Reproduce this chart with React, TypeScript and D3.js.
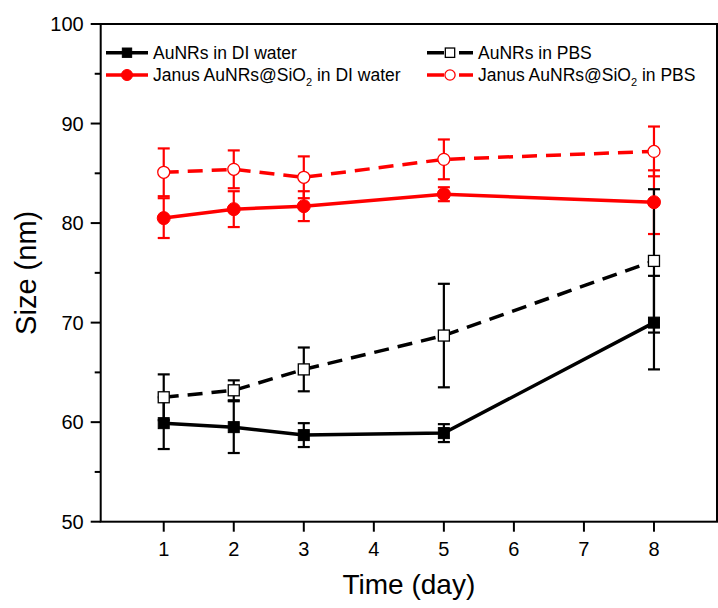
import React, { useEffect, useRef } from 'react';
import * as d3 from 'd3';

const days = [1, 2, 3, 5, 8];
const xTicks = [1, 2, 3, 4, 5, 6, 7, 8];
const yTicks = [50, 60, 70, 80, 90, 100];
const yMinor = [55, 65, 75, 85, 95];

const auDI = [59.9, 59.5, 58.7, 58.9, 70.0];
const auDIErr = [2.6, 2.6, 1.2, 0.9, 4.7];
const auPBS = [62.5, 63.2, 65.3, 68.7, 76.2];
const auPBSErr = [2.3, 1.0, 2.2, 5.2, 7.2];
const janDI = [80.5, 81.4, 81.7, 82.9, 82.1];
const janDIErr = [2.0, 1.8, 1.5, 0.7, 3.2];
const janPBS = [85.1, 85.4, 84.6, 86.4, 87.2];
const janPBSErr = [2.4, 1.9, 2.1, 2.0, 2.5];

const series = [
  { name: 'AuNRs in DI water', values: auDI, err: auDIErr, color: '#000', dashed: false, shape: 'square', filled: true },
  { name: 'AuNRs in PBS', values: auPBS, err: auPBSErr, color: '#000', dashed: true, shape: 'square', filled: false },
  { name: 'Janus AuNRs@SiO|2| in DI water', values: janDI, err: janDIErr, color: '#ff0000', dashed: false, shape: 'circle', filled: true },
  { name: 'Janus AuNRs@SiO|2| in PBS', values: janPBS, err: janPBSErr, color: '#ff0000', dashed: true, shape: 'circle', filled: false },
];

const App = () => {
  const svgRef = useRef(null);

  useEffect(() => {
    const left = 100.7, right = 717, top = 24, bottom = 521.7;
    const font = 'Liberation Sans, Arial, sans-serif';

    d3.select(svgRef.current).selectAll('*').remove();
    const svg = d3.select(svgRef.current);

    const x = d3.scaleLinear().domain([0.1, 8.9]).range([left, right]);
    const y = d3.scaleLinear().domain([50, 100]).range([bottom, top]);

    const drawMarker = (g, s, cx, cy, k = 1) => {
      if (s.shape === 'square') {
        const h = 5.5 * k;
        g.append('rect')
          .attr('x', cx - h).attr('y', cy - h)
          .attr('width', 2 * h).attr('height', 2 * h)
          .attr('fill', s.filled ? s.color : '#fff')
          .attr('stroke', s.color).attr('stroke-width', s.filled ? 1 : 1.3);
      } else {
        g.append('circle')
          .attr('cx', cx).attr('cy', cy).attr('r', (s.filled ? 6.5 : 6) * k)
          .attr('fill', s.filled ? s.color : '#fff')
          .attr('stroke', s.color).attr('stroke-width', s.filled ? 1 : 1.3);
      }
    };

    // error bars: red first, black on top
    const errOrder = [2, 3, 0, 1];
    errOrder.forEach(i => {
      const s = series[i];
      const g = svg.append('g').attr('stroke', s.color).attr('stroke-width', 2.2);
      days.forEach((d, j) => {
        const cx = x(d);
        const hi = y(s.values[j] + s.err[j]);
        const lo = y(s.values[j] - s.err[j]);
        g.append('line').attr('x1', cx).attr('x2', cx).attr('y1', hi).attr('y2', lo);
        g.append('line').attr('x1', cx - 6).attr('x2', cx + 6).attr('y1', hi).attr('y2', hi);
        g.append('line').attr('x1', cx - 6).attr('x2', cx + 6).attr('y1', lo).attr('y2', lo);
      });
    });

    const line = d3.line().x(d => x(d[0])).y(d => y(d[1]));
    series.forEach(s => {
      svg.append('path')
        .attr('d', line(days.map((d, j) => [d, s.values[j]])))
        .attr('fill', 'none')
        .attr('stroke', s.color)
        .attr('stroke-width', 3.5)
        .attr('stroke-dasharray', s.dashed ? '15 9' : null);
    });

    series.forEach(s => {
      const g = svg.append('g');
      days.forEach((d, j) => drawMarker(g, s, x(d), y(s.values[j])));
    });

    // frame
    svg.append('rect')
      .attr('x', left).attr('y', top)
      .attr('width', right - left).attr('height', bottom - top)
      .attr('fill', 'none').attr('stroke', '#000').attr('stroke-width', 2);

    // y axis
    const yAxis = svg.append('g');
    yTicks.forEach(t => {
      yAxis.append('line').attr('x1', left - 10).attr('x2', left).attr('y1', y(t)).attr('y2', y(t))
        .attr('stroke', '#000').attr('stroke-width', 2);
      yAxis.append('text').attr('x', left - 17).attr('y', y(t)).attr('dy', '0.35em')
        .attr('text-anchor', 'end').attr('font-family', font).attr('font-size', 20).text(t);
    });
    yMinor.forEach(t => {
      yAxis.append('line').attr('x1', left - 6).attr('x2', left).attr('y1', y(t)).attr('y2', y(t))
        .attr('stroke', '#000').attr('stroke-width', 2);
    });

    // x axis
    const xAxis = svg.append('g');
    xTicks.forEach(t => {
      xAxis.append('line').attr('x1', x(t)).attr('x2', x(t)).attr('y1', bottom).attr('y2', bottom + 10)
        .attr('stroke', '#000').attr('stroke-width', 2);
      xAxis.append('text').attr('x', x(t)).attr('y', 556)
        .attr('text-anchor', 'middle').attr('font-family', font).attr('font-size', 20).text(t);
    });

    svg.append('text').attr('x', (left + right) / 2).attr('y', 594)
      .attr('text-anchor', 'middle').attr('font-family', font).attr('font-size', 28).text('Time (day)');
    svg.append('text').attr('transform', `translate(36,${(top + bottom) / 2}) rotate(-90)`)
      .attr('text-anchor', 'middle').attr('font-family', font).attr('font-size', 29).text('Size (nm)');

    // legend
    const legendPos = [
      { x0: 106, x1: 148, row: 52.7 },
      { x0: 427, x1: 473, row: 52.7 },
      { x0: 106, x1: 148, row: 75 },
      { x0: 427, x1: 473, row: 75 },
    ];
    series.forEach((s, i) => {
      const p = legendPos[i];
      const g = svg.append('g');
      g.append('line').attr('x1', p.x0).attr('x2', p.x1).attr('y1', p.row).attr('y2', p.row)
        .attr('stroke', s.color).attr('stroke-width', 3.5)
        .attr('stroke-dasharray', s.dashed ? '17 15' : null);
      drawMarker(g, s, (p.x0 + p.x1) / 2, p.row, 0.85);
      const txt = g.append('text').attr('x', p.x1 + 5).attr('y', p.row).attr('dy', '0.35em')
        .attr('font-family', font).attr('font-size', 17.5);
      const parts = s.name.split('|');
      parts.forEach((part, k) => {
        if (k === 1) {
          txt.append('tspan').attr('font-size', 11).attr('dy', 5).text(part);
        } else if (k === 2) {
          txt.append('tspan').attr('dy', -5).text(part);
        } else {
          txt.append('tspan').text(part);
        }
      });
    });
  }, []);

  return (
    <div>
      <svg ref={svgRef} width={718} height={608}
        style={{ position: 'absolute', left: 0, top: 0, background: '#fff' }}></svg>
    </div>
  );
};

export default App;
